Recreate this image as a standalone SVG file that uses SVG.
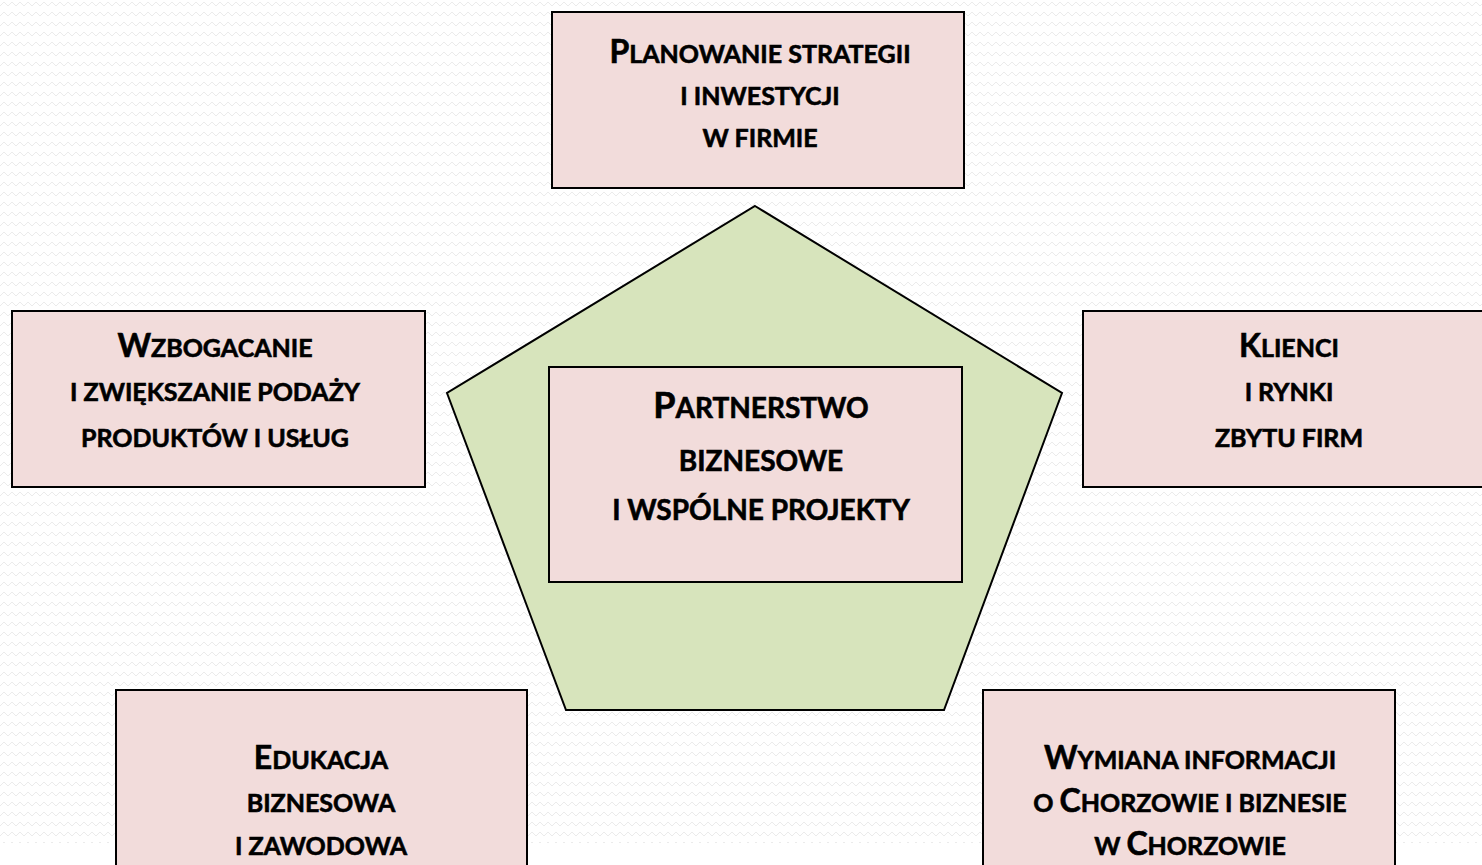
<svg xmlns="http://www.w3.org/2000/svg" width="1482" height="865" viewBox="0 0 1482 865">
<defs>
<pattern id="zig" width="8" height="10" patternUnits="userSpaceOnUse">
<path d="M0 6 L4 2 L8 6" fill="none" stroke="#ebebeb" stroke-width="1"/>
</pattern>
<style>
.box{fill:#f2dcdb;stroke:#000;stroke-width:2}
.pent{fill:#d7e4bc;stroke:#000;stroke-width:2;stroke-linejoin:miter}
.t{font-family:Lato,"Open Sans","Liberation Sans",sans-serif;font-weight:700;fill:#000;stroke:#000;stroke-width:0.6;text-anchor:middle;font-size:25px}
.tc{font-size:28px}
.b{font-size:32px}
.bc{font-size:36px}
</style>
</defs>
<rect x="0" y="0" width="1482" height="865" fill="#fff"/>
<rect x="0" y="0" width="1482" height="843" fill="url(#zig)"/>

<g id="pentagon">
<polygon class="pent" points="755,206 1062,393 944,710 566,710 447,393"/>
</g>

<g id="node-top">
<rect class="box" x="552" y="12" width="412" height="176"/>
<text class="t" x="760" y="63"><tspan class="b">P</tspan>LANOWANIE STRATEGII</text>
<text class="t" x="760" y="105">I INWESTYCJI</text>
<text class="t" x="760" y="147">W FIRMIE</text>
</g>

<g id="node-left">
<rect class="box" x="12" y="311" width="413" height="176"/>
<text class="t" x="215" y="357"><tspan class="b">W</tspan>ZBOGACANIE</text>
<text class="t" x="215" y="401">I ZWIĘKSZANIE PODAŻY</text>
<text class="t" x="215" y="447">PRODUKTÓW I USŁUG</text>
</g>

<g id="node-right">
<rect class="box" x="1083" y="311" width="412" height="176"/>
<text class="t" x="1289" y="357"><tspan class="b">K</tspan>LIENCI</text>
<text class="t" x="1289" y="401">I RYNKI</text>
<text class="t" x="1289" y="447">ZBYTU FIRM</text>
</g>

<g id="node-center">
<rect class="box" x="549" y="367" width="413" height="215"/>
<text class="t tc" x="761" y="418"><tspan class="bc">P</tspan>ARTNERSTWO</text>
<text class="t tc" x="761" y="471">BIZNESOWE</text>
<text class="t tc" x="761" y="520">I WSPÓLNE PROJEKTY</text>
</g>

<g id="node-bottom-left">
<rect class="box" x="116" y="690" width="411" height="180"/>
<text class="t" x="321" y="769"><tspan class="b">E</tspan>DUKACJA</text>
<text class="t" x="321" y="812">BIZNESOWA</text>
<text class="t" x="321" y="855">I ZAWODOWA</text>
</g>

<g id="node-bottom-right">
<rect class="box" x="983" y="690" width="412" height="180"/>
<text class="t" x="1190" y="769"><tspan class="b">W</tspan>YMIANA INFORMACJI</text>
<text class="t" x="1190" y="812">O <tspan class="b">C</tspan>HORZOWIE I BIZNESIE</text>
<text class="t" x="1190" y="855">W <tspan class="b">C</tspan>HORZOWIE</text>
</g>
</svg>
